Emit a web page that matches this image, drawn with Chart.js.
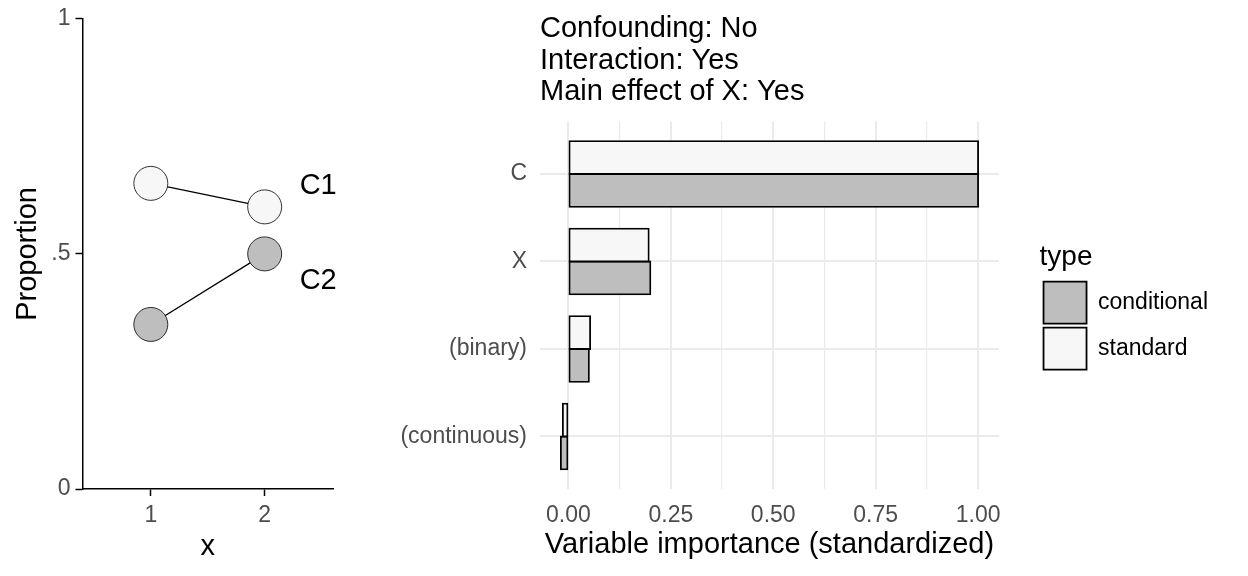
<!DOCTYPE html>
<html><head><meta charset="utf-8">
<script src="https://cdn.jsdelivr.net/npm/chart.js@4.4.0/dist/chart.umd.min.js"></script>
<style>
html,body{margin:0;padding:0;background:#fff;width:1248px;height:576px;overflow:hidden}
#left{position:absolute;left:0;top:0}
#right{position:absolute;left:360px;top:0}
</style></head><body>
<canvas id="left" width="360" height="576"></canvas>
<canvas id="right" width="888" height="576"></canvas>
<script>
// ---- left panel data ----
const xValues = [1, 2];
const seriesNames = ['C1', 'C2'];
const c1Values = [0.65, 0.60];
const c2Values = [0.35, 0.50];
const seriesLabelX = [2.47, 2.47];
const seriesLabelY = [0.645, 0.443];
const leftXTicks = [1, 2];
const leftYTicks = [0, 0.5, 1];
const leftYTickLabels = ['0', '.5', '1'];

// ---- right panel data ----
const categories = ['C', 'X', '(binary)', '(continuous)'];
const standard = [1.0, 0.196, 0.053, -0.0136];
const conditional = [1.0, 0.200, 0.050, -0.0185];
const importanceMajorTicks = [0, 0.25, 0.5, 0.75, 1.0];
const importanceMinorTicks = [0.125, 0.375, 0.625, 0.875];
const titleLines = ['Confounding: No', 'Interaction: Yes', 'Main effect of X: Yes'];

const FONT = "'Liberation Sans', Arial, sans-serif";
Chart.defaults.font.family = FONT;
const LIGHT = '#f7f7f7';
const DARK = '#bebebe';
const TICKCOL = '#4d4d4d';

const seriesLabelPlugin = {
  id: 'seriesLabels',
  afterDatasetsDraw(chart) {
    const {ctx, scales: {x, y}} = chart;
    ctx.save();
    ctx.font = '29px ' + FONT;
    ctx.fillStyle = '#000';
    ctx.textAlign = 'center';
    ctx.textBaseline = 'middle';
    seriesNames.forEach((n, i) => {
      ctx.fillText(n, x.getPixelForValue(seriesLabelX[i]), y.getPixelForValue(seriesLabelY[i]));
    });
    ctx.restore();
  }
};

function lineDs(name, vals, fill) {
  return {
    label: name,
    data: xValues.map((x, i) => ({x: x, y: vals[i]})),
    borderColor: '#000', borderWidth: 1.3,
    backgroundColor: fill,
    pointBackgroundColor: fill, pointBorderColor: '#000', pointBorderWidth: 0.8,
    pointRadius: 17, pointHoverRadius: 17, fill: false, tension: 0
  };
}

new Chart(document.getElementById('left'), {
  type: 'line',
  data: { datasets: [lineDs(seriesNames[0], c1Values, LIGHT), lineDs(seriesNames[1], c2Values, DARK)] },
  options: {
    responsive: false, animation: false,
    layout: {padding: {top: 14, right: 27, bottom: 0, left: 0}},
    plugins: {legend: {display: false}, tooltip: {enabled: false}},
    scales: {
      x: {
        type: 'linear', min: 0.4, max: 2.6,
        afterBuildTicks: s => { s.ticks = leftXTicks.map(v => ({value: v})); },
        grid: {drawOnChartArea: false, drawTicks: true, tickLength: 7, tickColor: '#000', tickWidth: 1.5},
        border: {display: true, color: '#000', width: 1.5},
        ticks: {color: TICKCOL, font: {size: 23}, padding: 6, autoSkip: false, maxRotation: 0, callback: v => String(v)},
        title: {display: true, text: 'x', color: '#000', font: {size: 29}, padding: {top: 0, bottom: 12}},
        afterFit: s => { s.height = 87; }
      },
      y: {
        type: 'linear', min: 0, max: 1,
        afterBuildTicks: s => { s.ticks = leftYTicks.map(v => ({value: v})); },
        grid: {drawOnChartArea: false, drawTicks: true, tickLength: 7, tickColor: '#000', tickWidth: 1.5},
        border: {display: true, color: '#000', width: 1.5},
        ticks: {color: TICKCOL, font: {size: 23}, padding: 5, autoSkip: false, callback: v => leftYTickLabels[leftYTicks.indexOf(v)]},
        title: {display: true, text: 'Proportion', color: '#000', font: {size: 29}, padding: {top: 10.5, bottom: 0}},
        afterFit: s => { s.width = 82.5; }
      }
    }
  },
  plugins: [seriesLabelPlugin]
});

function barDs(name, vals, fill) {
  return {
    label: name,
    data: categories.map((c, i) => ({x: vals[i], y: categories.length - i})),
    backgroundColor: fill, borderColor: '#000', borderWidth: 1.8,
    borderSkipped: false, inflateAmount: 0.9
  };
}

new Chart(document.getElementById('right'), {
  type: 'bar',
  data: { datasets: [barDs('standard', standard, LIGHT), barDs('conditional', conditional, DARK)] },
  options: {
    indexAxis: 'y', responsive: false, animation: false,
    layout: {padding: {top: 0, right: 30, bottom: 0, left: 0}},
    datasets: {bar: {categoryPercentage: 0.75, barPercentage: 1}},
    plugins: {
      tooltip: {enabled: false},
      title: {display: true, text: titleLines, align: 'start', fullSize: false, color: '#000',
        font: {size: 29, weight: 'normal', lineHeight: 1.086}, padding: {top: 13.5, bottom: 13.5}},
      legend: {display: true, position: 'right', reverse: true, align: 'center', maxWidth: 400,
        title: {display: true, text: 'type', position: 'start', color: '#000', font: {size: 28, weight: 'normal'}, padding: {top: 41.4, bottom: 0.4}},
        labels: {boxWidth: 43, boxHeight: 42, padding: 4, color: '#000', font: {size: 23}}}
    },
    scales: {
      x: {
        type: 'linear', position: 'bottom', min: -0.0694, max: 1.0509,
        afterBuildTicks: s => { s.ticks = importanceMajorTicks.concat(importanceMinorTicks).sort((a, b) => a - b).map(v => ({value: v})); },
        grid: {color: '#ebebeb', lineWidth: c => importanceMajorTicks.includes(c.tick && c.tick.value) ? 2 : 1.2, drawTicks: false},
        border: {display: false},
        ticks: {color: TICKCOL, font: {size: 23}, padding: 13, autoSkip: false, maxRotation: 0,
          callback: v => importanceMajorTicks.includes(v) ? v.toFixed(2) : ''},
        title: {display: true, text: 'Variable importance (standardized)', color: '#000', font: {size: 29}, padding: {top: 0, bottom: 13.6}},
        afterFit: s => { s.height = 87; }
      },
      y: {
        type: 'linear', position: 'left', min: 0.4, max: 4.6, offset: false,
        afterBuildTicks: s => { s.ticks = categories.map((c, i) => ({value: i + 1})); },
        grid: {color: '#ebebeb', lineWidth: 2, drawTicks: false, offset: false},
        border: {display: false},
        ticks: {color: TICKCOL, font: {size: 23}, padding: 13, autoSkip: false, callback: v => categories[categories.length - v]},
        afterFit: s => { s.width = 180; }
      },
      yPad: {
        type: 'linear', position: 'right', display: true, offset: false,
        grid: {display: false}, ticks: {display: false}, border: {display: false},
        afterFit: s => { s.width = 40.6; }
      }
    }
  }
});
</script>
</body></html>
